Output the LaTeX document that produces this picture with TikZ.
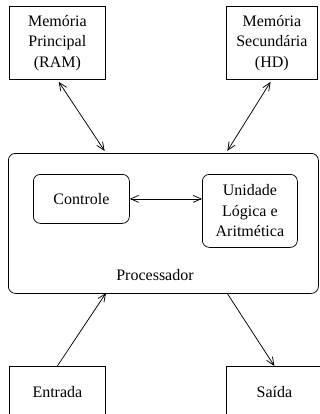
\documentclass[tikz,border=0pt]{standalone}
\usepackage{fontspec}
\setmainfont{Liberation Serif}
\usetikzlibrary{arrows.meta}
\begin{document}
\begin{tikzpicture}[x=1pt,y=-1pt,
  line width=0.75pt,
  box/.style={draw, rectangle, inner sep=0pt, align=center, anchor=north west,
    font=\fontsize{16}{20.5}\selectfont},
  rbox/.style={box, rounded corners=7pt},
  arr/.style={-{Straight Barb[length=8pt,width=7pt,line width=0.75pt]}},
  darr/.style={{Straight Barb[length=8pt,width=7pt,line width=0.75pt]}-{Straight Barb[length=8pt,width=7pt,line width=0.75pt]}},
  lbl/.style={font=\fontsize{16}{20.5}\selectfont, inner sep=0pt}]
\useasboundingbox (0,0) rectangle (320,414);
% top boxes
\node[box, minimum width=96pt, minimum height=73pt] (ram) at (9,6) {Memória\\Principal\\(RAM)};
\node[box, minimum width=91pt, minimum height=73pt] (hd) at (226,6) {Memória\\Secundária\\(HD)};
% processor
\node[draw, rounded corners=7pt, minimum width=310pt, minimum height=140pt, anchor=north west, inner sep=0pt] (proc) at (8,153) {};
\node[lbl] (plbl) at (155,275) {Processador};
\node[rbox, minimum width=96pt, minimum height=49pt] (ctl) at (33,174) {Controle};
\node[rbox, minimum width=95pt, minimum height=73pt] (ula) at (202,174) {Unidade\\Lógica e\\Aritmética};
% bottom boxes
\node[box, minimum width=96pt, minimum height=52pt] (ent) at (9,366) {Entrada};
\node[box, minimum width=96pt, minimum height=52pt] (sai) at (226,366) {Saída};
% connection points on the processor
\coordinate (p1) at (106,153);
\coordinate (p2) at (226,153);
\coordinate (p3) at (106,293);
\coordinate (p4) at (227,293);
% connectors
\draw[darr, shorten <=2.5pt, shorten >=2.5pt] (ram.south) -- (p1);
\draw[darr, shorten <=2.5pt, shorten >=2.5pt] (hd.south) -- (p2);
\draw[darr] (ctl.east) -- (ctl.east -| ula.west);
\draw[arr] (ent.north) -- (p3);
\draw[arr] (p4) -- (sai.north);
\end{tikzpicture}
\end{document}
